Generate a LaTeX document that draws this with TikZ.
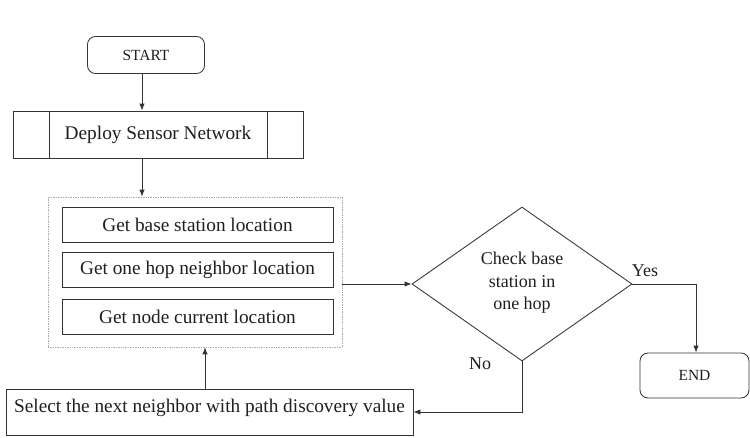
\documentclass[tikz,border=0pt]{standalone}
\usepackage{fontspec}
\setmainfont{Liberation Serif}
\usetikzlibrary{arrows.meta,shapes.geometric,calc}
\begin{document}
\begin{tikzpicture}[x=1pt,y=-1pt,
  ln/.style={draw=black!80,line width=0.85pt},
  arr/.style={ln,-{Latex[length=7pt,width=5.5pt]}},
  box/.style={ln,rectangle,inner sep=0pt,text=black!88},
  term/.style={box,rounded corners=8pt,font=\fontsize{15.5}{18}\selectfont},
  big/.style={font=\fontsize{19.3}{22}\selectfont},
  lbl/.style={text=black!88,inner sep=0pt,font=\fontsize{18}{21}\selectfont}]
\useasboundingbox (0,0) rectangle (750,437);
\node[term,minimum width=117pt,minimum height=37pt] (start) at (146,55) {START};
\node[box,big,minimum width=290pt,minimum height=47pt] (deploy) at (158,134.5) {Deploy Sensor Network};
\draw[ln] (49,111) -- (49,158);
\draw[ln] (267,111) -- (267,158);
\node[draw=gray!65,densely dotted,line width=0.7pt,rectangle,inner sep=0pt,minimum width=294pt,minimum height=150pt] (outer) at (195,272) {};
\node[box,big,minimum width=271pt,minimum height=35pt] (b1) at (197.5,224.5) {Get base station location};
\node[box,big,minimum width=271pt,minimum height=35pt] (b2) at (197.5,269.5) {Get one hop neighbor location};
\node[box,big,minimum width=271pt,minimum height=35pt] (b3) at (197.5,316.5) {Get node current location};
\node[ln,diamond,inner sep=0pt,minimum width=220pt,minimum height=154pt,align=center,text=black!88,font=\fontsize{18}{22.5}\selectfont,text depth=6pt] (dia) at (522,284) {Check base\\station in\\one hop};
\node[term,minimum width=109pt,minimum height=45pt] (end) at (694.5,375.5) {END};
\node[box,big,minimum width=407pt,minimum height=46pt,text height=13pt,text depth=12pt] (sel) at (209.5,412) {Select the next neighbor with path discovery value};
\node[lbl] (yes) at (645,271) {Yes};
\node[lbl] (no) at (480,364) {No};
\coordinate (ax) at ([xshift=-4pt]start.south);
\draw[arr] (ax) -- (ax |- deploy.north);
\draw[arr] (ax |- deploy.south) -- (ax |- outer.north);
\draw[arr] (outer.east |- dia.west) -- (dia.west);
\coordinate (yc) at ([xshift=1.5pt]end.north |- dia.east);
\draw[ln] (dia.east) -- (yc);
\draw[arr] (yc) -- (yc |- end.north);
\draw[arr] (dia.south) |- (sel.east);
\coordinate (up) at ([xshift=10pt]outer.south);
\draw[arr] (up |- sel.north) -- (up);
\end{tikzpicture}
\end{document}
